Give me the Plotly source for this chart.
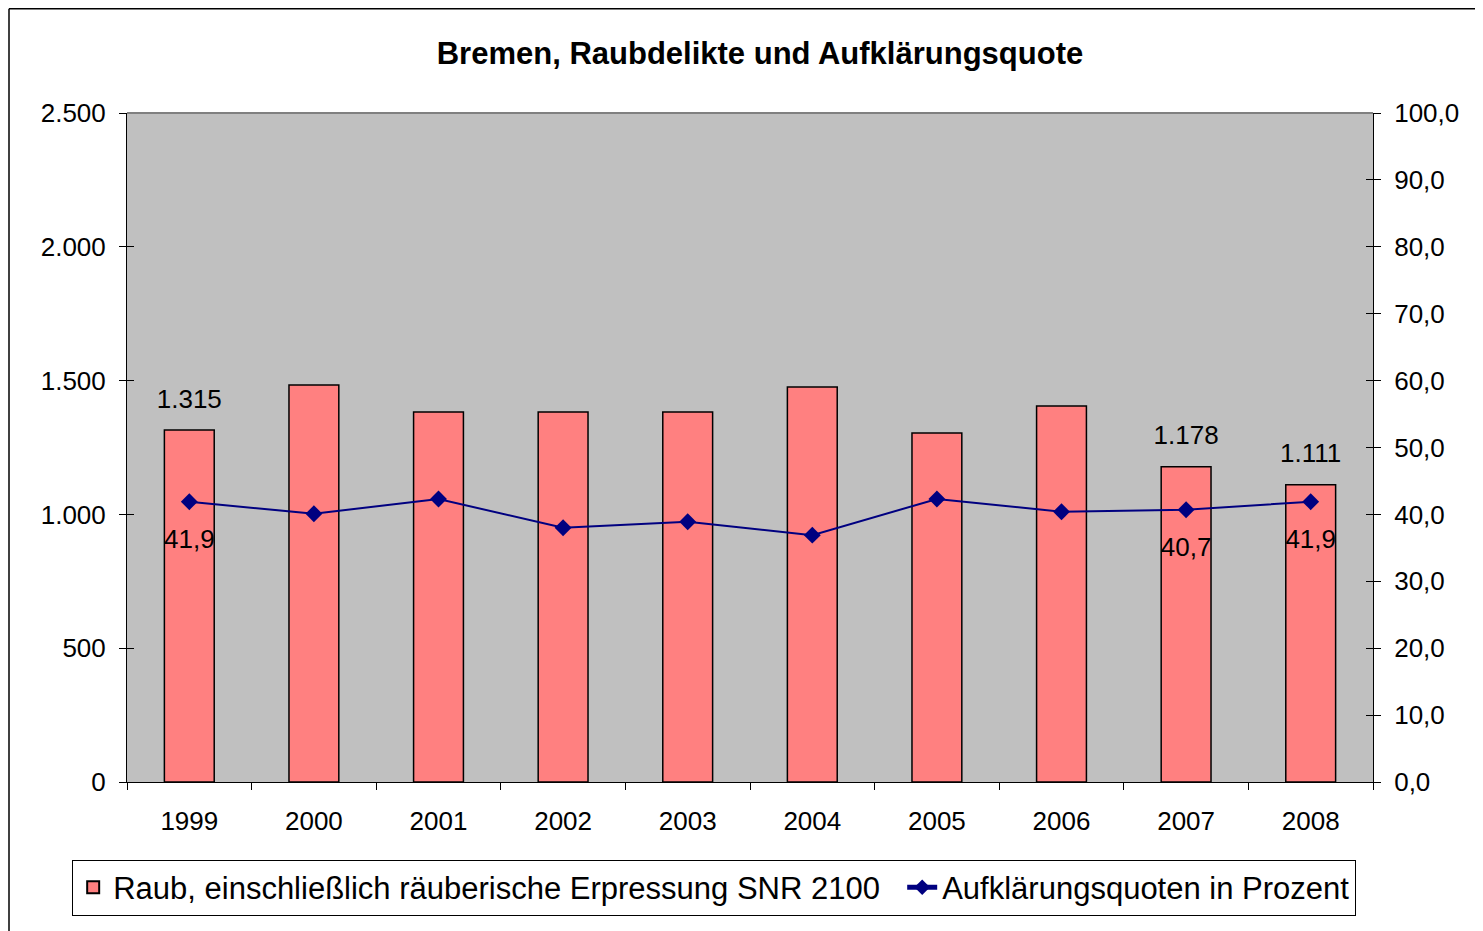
import plotly.graph_objects as go

years = ["1999", "2000", "2001", "2002", "2003", "2004", "2005", "2006", "2007", "2008"]
raub = [1315, 1484, 1383, 1383, 1383, 1476, 1304, 1405, 1178, 1111]
quote = [41.9, 40.1, 42.3, 38.0, 38.9, 36.9, 42.3, 40.4, 40.7, 41.9]
raub_label_idx = [0, 8, 9]
quote_label_idx = [0, 8, 9]

raub_name = "Raub, einschließlich räuberische Erpressung SNR 2100"
quote_name = "Aufklärungsquoten in Prozent"
title = "Bremen, Raubdelikte und Aufklärungsquote"

FONT = "Liberation Sans, Arial, sans-serif"

raub_text = [f"{v:,}".replace(",", ".") if i in raub_label_idx else "" for i, v in enumerate(raub)]
quote_text = [f"{v:.1f}".replace(".", ",") if i in quote_label_idx else "" for i, v in enumerate(quote)]

fig = go.Figure()
fig.add_trace(go.Bar(
    x=years, y=raub, name=raub_name + "\u00a0\u00a0",
    marker=dict(color="#FF8080", line=dict(color="black", width=1.5)),
    width=0.4, yaxis="y",
))
fig.add_trace(go.Scatter(
    x=years, y=quote, name=quote_name, mode="lines+markers",
    line=dict(color="#000080", width=2),
    marker=dict(symbol="diamond", size=13, color="#000080"),
    yaxis="y2",
))
# data labels (text only, placed relative to the data points)
fig.add_trace(go.Scatter(
    x=years, y=raub, mode="text+markers", text=raub_text, textposition="top center",
    marker=dict(size=24, opacity=0), textfont=dict(family=FONT, size=26, color="black"),
    showlegend=False, hoverinfo="skip", cliponaxis=False, yaxis="y",
))
fig.add_trace(go.Scatter(
    x=years, y=quote, mode="text+markers", text=quote_text, textposition="bottom center",
    marker=dict(size=42, opacity=0), textfont=dict(family=FONT, size=26, color="black"),
    showlegend=False, hoverinfo="skip", cliponaxis=False, yaxis="y2",
))
# invisible traces to activate the inside-tick overlay axes
fig.add_trace(go.Scatter(x=[years[0]], y=[0], yaxis="y3", mode="markers",
                         marker=dict(opacity=0), showlegend=False, hoverinfo="skip"))
fig.add_trace(go.Scatter(x=[years[0]], y=[0], yaxis="y4", mode="markers",
                         marker=dict(opacity=0), showlegend=False, hoverinfo="skip"))

fig.update_layout(
    width=1483, height=931,
    margin=dict(l=119, r=118, t=105, b=157, autoexpand=False),
    paper_bgcolor="white",
    plot_bgcolor="#C0C0C0",
    separators=",.",
    font=dict(family=FONT, size=26, color="black"),
    title=dict(text=f"<b>{title}</b>", x=0.508, xref="paper", xanchor="center",
               y=1 - 45 / 931, yanchor="middle", font=dict(size=31, family=FONT)),
    showlegend=True,
    legend=dict(orientation="h", x=-0.044, xanchor="left", y=-0.116, yanchor="top",
                bordercolor="black", borderwidth=1, bgcolor="white",
                font=dict(size=31, family=FONT), itemsizing="constant"),
    xaxis=dict(type="category", range=[-0.5, 9.5], showline=True, linecolor="black",
               linewidth=1, ticks="outside", tickson="boundaries", ticklen=7,
               tickcolor="black", showgrid=False, tickfont=dict(size=26),
               ticklabelstandoff=16),
    yaxis=dict(range=[0, 2500], dtick=500, tickformat=",.0f", showline=True,
               linecolor="black", linewidth=1, ticks="outside", ticklen=7,
               tickcolor="black", showgrid=False, zeroline=False,
               tickfont=dict(size=26), ticklabelstandoff=8),
    yaxis2=dict(range=[0, 100], dtick=10, tickformat=".1f", overlaying="y", side="right",
                showline=True, linecolor="black", linewidth=1, ticks="outside", ticklen=7,
                tickcolor="black", showgrid=False, zeroline=False,
                tickfont=dict(size=26), ticklabelstandoff=8),
    yaxis3=dict(range=[0, 2500], dtick=500, overlaying="y", side="left", ticks="inside",
                ticklen=7, tickcolor="black", showticklabels=False, showgrid=False,
                zeroline=False, showline=False),
    yaxis4=dict(range=[0, 100], dtick=10, overlaying="y", side="right", ticks="inside",
                ticklen=7, tickcolor="black", showticklabels=False, showgrid=False,
                zeroline=False, showline=False),
    shapes=[
        dict(type="line", xref="paper", yref="paper", x0=0, x1=1, y0=1, y1=1,
             line=dict(color="#808080", width=2)),
        dict(type="line", xref="paper", yref="paper", x0=-0.0947, x1=1.2, y0=1.156, y1=1.156,
             line=dict(color="black", width=1.5)),
        dict(type="line", xref="paper", yref="paper", x0=-0.0947, x1=-0.0947, y0=1.156, y1=-0.25,
             line=dict(color="black", width=1.5)),
    ],
)

fig.write_html("out.html")
